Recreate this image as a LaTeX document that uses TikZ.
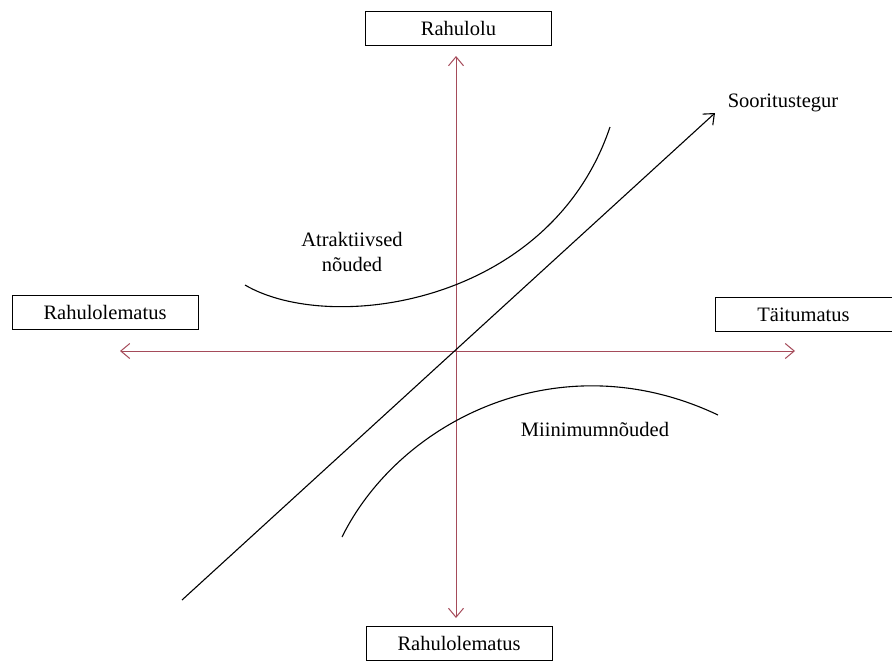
\documentclass[tikz,border=0pt]{standalone}
\usepackage{fontspec}
\setmainfont{Liberation Serif}
\usetikzlibrary{arrows.meta}

\definecolor{axisred}{RGB}{165,75,90}

\begin{document}
\begin{tikzpicture}[x=1pt, y=-1pt,
    labelbox/.style={draw, line width=1pt, minimum width=186pt, minimum height=34pt,
        font=\fontsize{20.5}{24}\selectfont},
    axisline/.style={axisred, line width=1pt, {Straight Barb[length=9pt,width=15pt]}-{Straight Barb[length=9pt,width=15pt]}},
    curveline/.style={line width=1.1pt},
    tag/.style={font=\fontsize{20.5}{25}\selectfont, align=center}]
    \useasboundingbox (0,0) rectangle (892,664);

    % Boxes at the ends of the axes
    \node[labelbox] (top) at (458.5,28) {Rahulolu};
    \node[labelbox] (left) at (105,312) {Rahulolematus};
    \node[labelbox, minimum width=177pt] (right) at (803.5,314.5) {Täitumatus};
    \node[labelbox] (bottom) at (459,643.5) {Rahulolematus};

    % Axes
    \coordinate (ytop) at (456,56);
    \coordinate (ybot) at (456,618);
    \coordinate (xleft) at (120,351);
    \coordinate (xright) at (795,351);
    \draw[axisline] (ybot) -- (ytop);
    \draw[axisline] (xleft) -- (xright);

    % Performance line
    \coordinate (dstart) at (182,600);
    \coordinate (dend) at (715,113);
    \draw[line width=1.1pt, -{Straight Barb[length=9pt,width=15pt]}] (dstart) -- (dend);
    \node[tag] (perf) at (783,103) {Sooritustegur};

    % Attractive requirements
    \draw[curveline] (245,285) .. controls (330,335) and (550,305) .. (610,127);
    \node[tag] (attr) at (352,252) {Atraktiivsed\\nõuded};

    % Must-be requirements
    \draw[curveline] (342,537) .. controls (400,420) and (560,340) .. (718,415);
    \node[tag] (must) at (595,429) {Miinimumnõuded};
\end{tikzpicture}
\end{document}
